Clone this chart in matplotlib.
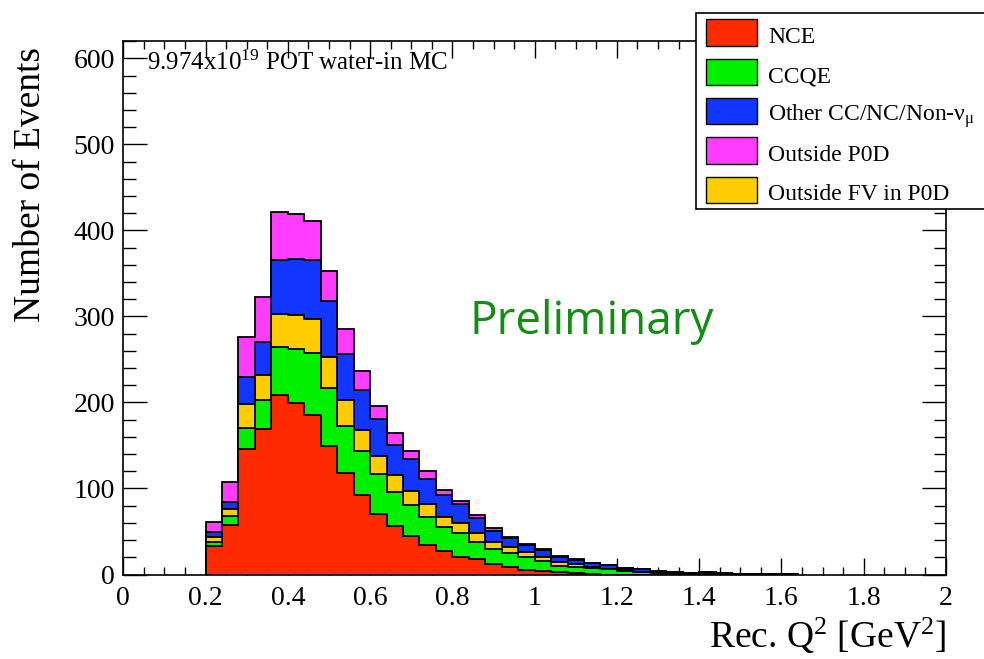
import numpy as np
import matplotlib
matplotlib.use('Agg')
import matplotlib.pyplot as plt
from matplotlib.patches import Rectangle
from matplotlib.ticker import MultipleLocator, FuncFormatter

plt.rcParams['font.family'] = ['Liberation Serif', 'DejaVu Serif']
plt.rcParams['mathtext.fontset'] = 'custom'
plt.rcParams['mathtext.rm'] = 'Liberation Serif'
plt.rcParams['mathtext.it'] = 'Liberation Serif'

# bins of 0.04 GeV^2 starting at 0.20
bin_lo = 0.20
bin_w = 0.04

nce = [33, 58, 145.5, 168.7, 208.3, 199, 185.4, 149.7, 118.3, 92.8, 70.2, 56.4,
       44.8, 34.3, 27.3, 20.7, 17.7, 11.9, 8.4, 5.2, 4.2, 2.8, 2.0, 1.1,
       0, 0, 0, 0, 0, 0, 0, 0, 0, 0, 0, 0]
ccqe = [4.4, 9.5, 25.2, 33.8, 56.1, 63.1, 72.4, 66.7, 54.7, 51.1, 46.8, 39.1,
        36.0, 32.2, 27.6, 27.2, 20.4, 17.4, 16.2, 14.8, 11.6, 7.2, 6.6, 6.1,
        6.2, 3.5, 2.9, 1.6, 1.0, 0.5, 1.8, 0.5, 0, 0, 0, 0]
out_fv = [5.8, 8.8, 27.1, 29.4, 38.8, 39.5, 38.8, 36.8, 29.8, 24.1, 21.0, 20.2,
          16.6, 15.1, 11.6, 12.3, 9.8, 8.1, 7.0, 5.8, 4.7, 4.5, 3.2, 1.8,
          0.2, 1.4, 0, 0, 0, 0, 0, 0, 0, 0, 0, 0]
other = [5.9, 8.3, 31.4, 38.4, 62.0, 64.8, 68.6, 64.7, 53.2, 46.5, 42.6, 34.8,
         37.2, 29.8, 25.9, 21.4, 17.4, 13.5, 10.5, 8.5, 8.0, 6.2, 5.5, 4.8,
         4.1, 3.2, 3.1, 2.3, 1.7, 0.8, 0.8, 0.8, 0.4, 0.4, 0.3, 0.3]
out_p0d = [11.6, 23.3, 46.5, 51.9, 56.2, 53.0, 46.1, 34.9, 29.7, 22.0, 14.9, 13.6,
           9.3, 9.3, 6.2, 3.8, 3.9, 3.2, 1.1, 1.2, 1.1, 1.0, 0.4, 0.1,
           0, 0, 0, 0, 0, 0, 0, 0, 0, 0, 0, 0]

# stack order bottom -> top
layers = [nce, ccqe, out_fv, other, out_p0d]
colors = ['#ff2a00', '#00f000', '#ffcc00', '#1236ff', '#ff3cff']

legend_labels = ['NCE', 'CCQE', r'Other CC/NC/Non-ν$_{\mu}$', 'Outside P0D', 'Outside FV in P0D']
legend_colors = ['#ff2a00', '#00f000', '#1236ff', '#ff3cff', '#ffcc00']

W, H = 984, 659
fig = plt.figure(figsize=(W / 100, H / 100), dpi=100)


def fx(px):
    return px / W


def fy(py):
    return 1 - py / H


ax = fig.add_axes([fx(123.3), fy(574.5), fx(946) - fx(123.3), fy(40.7) - fy(574.5)])

edges = np.round(bin_lo + bin_w * np.arange(len(nce) + 1), 2)
cum = np.cumsum(np.array(layers, dtype=float), axis=0)

# draw like ROOT THStack: tallest cumulative first, each with black outline
for i in reversed(range(len(layers))):
    ax.stairs(cum[i], edges, fill=True, color=colors[i], zorder=2)
    ax.stairs(cum[i], edges, color='black', lw=1.3, zorder=2)

ax.set_xlim(0, 2)
ax.set_ylim(0, 620.5)
ax.xaxis.set_major_locator(MultipleLocator(0.2))
ax.xaxis.set_minor_locator(MultipleLocator(0.05))
ax.yaxis.set_major_locator(MultipleLocator(100))
ax.yaxis.set_minor_locator(MultipleLocator(20))
ax.xaxis.set_major_formatter(FuncFormatter(lambda v, p: '%g' % round(v, 2)))

ax.tick_params(which='both', direction='in', top=True, right=True, width=1, labelsize=20)
ax.tick_params(axis='x', which='major', length=12, pad=8)
ax.tick_params(axis='x', which='minor', length=6)
ax.tick_params(axis='y', which='major', length=17, pad=6)
ax.tick_params(axis='y', which='minor', length=9)
for s in ax.spines.values():
    s.set_linewidth(1.2)
    s.set_zorder(5)

fig.text(fx(946), fy(648), r'Rec. Q$^{2}$ [GeV$^{2}$]', ha='right', va='baseline', fontsize=27)
fig.text(fx(31), fy(47), 'Number of Events', rotation=90, ha='center', va='top', fontsize=27)

fig.text(fx(147), fy(70), r'9.974x10$^{19}$ POT water-in MC', ha='left', va='baseline', fontsize=18)
fig.text(fx(470), fy(334), 'Preliminary', family='Open Sans', color='#138d13',
         fontsize=33, ha='left', va='baseline')

# legend box drawn by hand (runs off the right edge like the original)
fig.add_artist(Rectangle((fx(695.7), fy(209.3)), fx(1000) - fx(695.7), fy(13.3) - fy(209.3),
                         transform=fig.transFigure, facecolor='white', edgecolor='black',
                         lw=1.2, zorder=10))
row_tops = [19.3, 58.7, 97.7, 137.3, 176.7]
for top, lab, c in zip(row_tops, legend_labels, legend_colors):
    fig.add_artist(Rectangle((fx(706), fy(top + 26.7)), fx(50.7), fy(top) - fy(top + 26.7),
                             transform=fig.transFigure, facecolor=c, edgecolor='black',
                             lw=1, zorder=11))
    fig.text(fx(768), fy(top + 23.3), lab, ha='left', va='baseline', fontsize=17, zorder=12)

fig.savefig('out.png', dpi=100)
